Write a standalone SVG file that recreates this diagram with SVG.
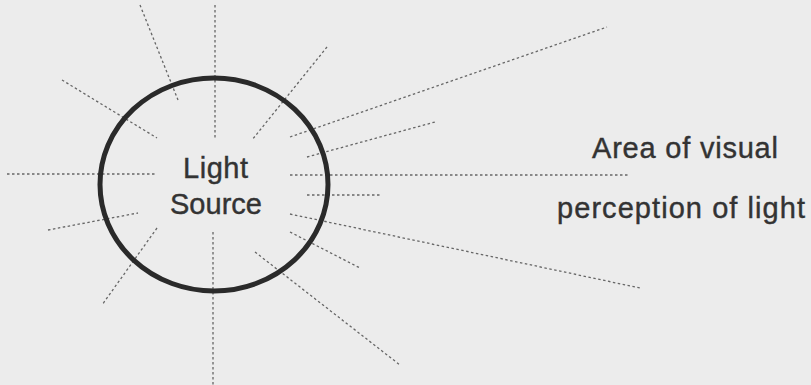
<svg xmlns="http://www.w3.org/2000/svg" width="811" height="385" viewBox="0 0 811 385">
<style>
.ray{stroke:#666;stroke-width:1.3;stroke-dasharray:2.5 2.5;fill:none}
.lbl{font-family:"Liberation Sans",Arial,sans-serif;fill:#333;stroke:#333;stroke-width:0.4;font-size:29px}
</style>
<rect width="811" height="385" fill="#ececec"/>
<g id="rays">
<line class="ray" x1="215" y1="5" x2="215" y2="140"/>
<line class="ray" x1="140" y1="5" x2="178" y2="100"/>
<line class="ray" x1="62" y1="80" x2="157" y2="138"/>
<line class="ray" x1="327" y1="47" x2="252" y2="140"/>
<line class="ray" x1="290" y1="137" x2="607" y2="27"/>
<line class="ray" x1="307" y1="157" x2="435" y2="122"/>
<line class="ray" x1="7" y1="174" x2="157" y2="174"/>
<line class="ray" x1="290" y1="175" x2="628" y2="175"/>
<line class="ray" x1="307" y1="195" x2="380" y2="195"/>
<line class="ray" x1="290" y1="214" x2="640" y2="288"/>
<line class="ray" x1="290" y1="232" x2="360" y2="268"/>
<line class="ray" x1="255" y1="252" x2="400" y2="365"/>
<line class="ray" x1="213" y1="232" x2="213" y2="385"/>
<line class="ray" x1="157" y1="228" x2="102" y2="305"/>
<line class="ray" x1="48" y1="230" x2="138" y2="213"/>
</g>
<g id="light-source">
<ellipse cx="214" cy="184.5" rx="114" ry="106.5" fill="none" stroke="#2a2a2a" stroke-width="5"/>
<text class="lbl" x="215.5" y="178" text-anchor="middle" textLength="65">Light</text>
<text class="lbl" x="216" y="214" text-anchor="middle" textLength="92">Source</text>
</g>
<g id="area-label">
<text class="lbl" x="592" y="158" textLength="186" lengthAdjust="spacing">Area of visual</text>
<text class="lbl" x="557" y="218" textLength="248" lengthAdjust="spacing">perception of light</text>
</g>
</svg>
